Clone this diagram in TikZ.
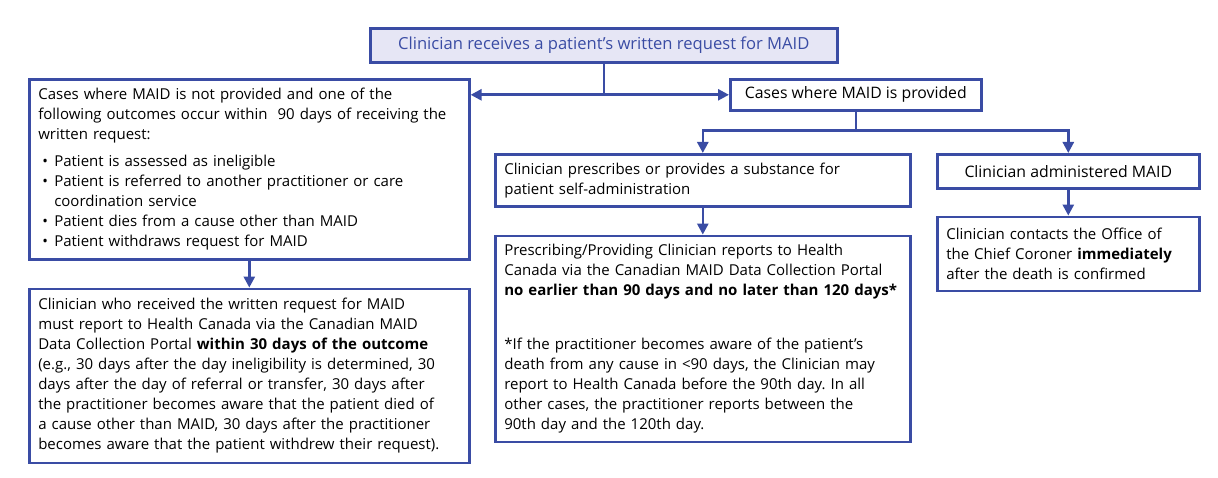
\documentclass[tikz,border=0pt]{standalone}
\usepackage{fontspec}
\setmainfont{Open Sans}
\frenchspacing
\usetikzlibrary{positioning}
\usetikzlibrary{arrows.meta}
\definecolor{maidblue}{RGB}{58,76,164}
\definecolor{maidfill}{RGB}{230,230,245}
\newcommand{\maidpoint}{\hspace*{4pt}\makebox[12pt][l]{\textbullet}} % bullet of a list line
\newcommand{\maidindent}{\hspace*{16pt}} % continuation of a list line
\tikzset{x=1pt, y=-1pt, % Pixel coordinates of the chart
      every node/.style={font=\fontsize{15}{20}\selectfont},
      box/.style={ % Sets the properties for each box
      draw=maidblue, line width=2.6pt,
      anchor=north west, align=left,
      inner xsep=9pt, inner ysep=6pt},
      title/.style={font=\fontsize{15.8}{20}\selectfont, align=center},
      plain/.style={draw=maidblue, line width=2.6pt},
      link/.style={ % Sets the properties for each connector
      plain,
      -{Triangle[width=11pt,length=11pt]}}}

\begin{document}
\begin{tikzpicture}
      \useasboundingbox (0,0) rectangle (1218,478);
      \node[box, title, fill=maidfill, text=maidblue, font=\fontsize{16.6}{20}\selectfont, minimum width=467pt, minimum height=34pt] (request) at (369,27) {Clinician receives a patient’s written request for MAID};
      \node[box, text width=422pt, minimum height=180pt] (notprov) at (28,78) {Cases where MAID is not provided and one of the\\
            following outcomes occur within\ \ 90 days of receiving the\\
            written request:\\[7pt]
            \maidpoint Patient is assessed as ineligible\\
            \maidpoint Patient is referred to another practitioner or care\\
            \maidindent coordination service\\
            \maidpoint Patient dies from a cause other than MAID\\
            \maidpoint Patient withdraws request for MAID};
      \node[box, anchor=north, text width=422pt, minimum height=174pt, below=27pt of notprov] (notprovreport) {Clinician who received the written request for MAID\\
            must report to Health Canada via the Canadian MAID\\
            Data Collection Portal \textbf{within 30 days of the outcome}\\
            (e.g., 30 days after the day ineligibility is determined, 30\\
            days after the day of referral or transfer, 30 days after\\
            the practitioner becomes aware that the patient died of\\
            a cause other than MAID, 30 days after the practitioner\\
            becomes aware that the patient withdrew their request).};
      \node[box, title, minimum width=251pt, minimum height=31pt] (prov) at (729,78) {Cases where MAID is provided};
      \node[box, text width=397pt, minimum height=52pt] (selfadm) at (494,153) {Clinician prescribes or provides a substance for\\
            patient self-administration};
      \node[box, anchor=north, text width=397pt, minimum height=206pt, below=27pt of selfadm] (selfreport) {Prescribing/Providing Clinician reports to Health\\
            Canada via the Canadian MAID Data Collection Portal\\
            \textbf{no earlier than 90 days and no later than 120 days*}\\[34pt]
            *If the practitioner becomes aware of the patient’s\\
            death from any cause in <90 days, the Clinician may\\
            report to Health Canada before the 90th day. In all\\
            other cases, the practitioner reports between the\\
            90th day and the 120th day.};
      \node[box, title, minimum width=262pt, minimum height=34pt] (clinadm) at (936,153) {Clinician administered MAID};
      \node[box, anchor=north, text width=244pt, minimum height=74pt, below=26pt of clinadm] (coroner) {Clinician contacts the Office of\\
            the Chief Coroner \textbf{immediately}\\
            after the death is confirmed};
      % first split
      \draw[plain] (request.south) -- (request.south |- prov.west);
      \draw[plain, {Triangle[width=11pt,length=11pt]}-{Triangle[width=11pt,length=11pt]}] (notprov.east |- prov.west) -- (prov.west);
      % second split
      \path (prov.south) ++(0,19) coordinate (fork);
      \draw[link] (prov.south) -- (fork) -| (selfadm.north);
      \draw[link] (fork) -| (clinadm.north);
      \draw[link] (notprov) -- (notprovreport);
      \draw[link] (selfadm) -- (selfreport);
      \draw[link] (clinadm) -- (coroner);
\end{tikzpicture}
\end{document}
